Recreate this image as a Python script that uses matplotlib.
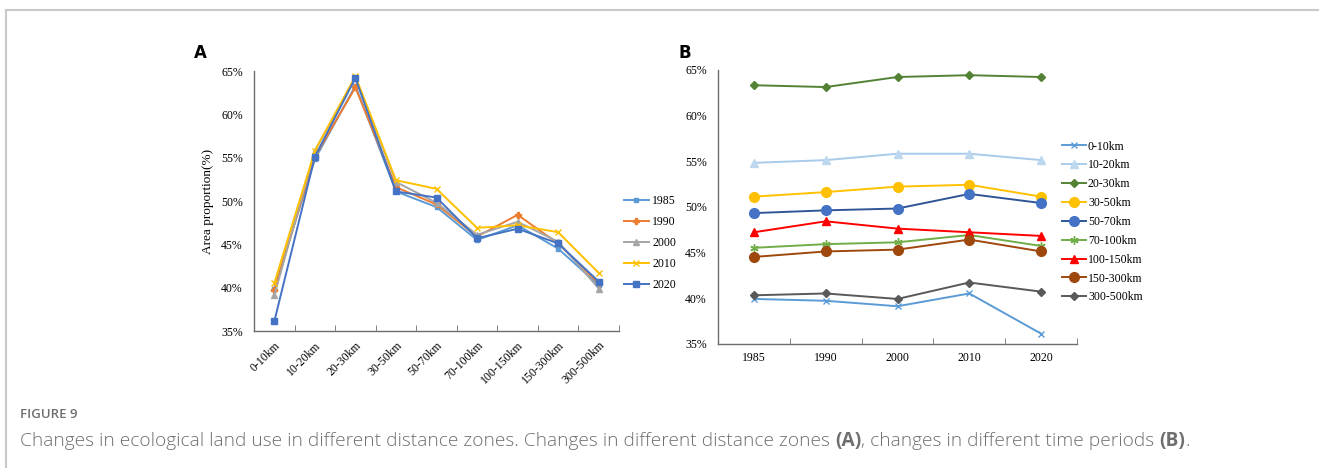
import numpy as np
import matplotlib.pyplot as plt
from matplotlib.lines import Line2D

# distance zones and years
zones = ['0-10km', '10-20km', '20-30km', '30-50km', '50-70km',
         '70-100km', '100-150km', '150-300km', '300-500km']
years = ['1985', '1990', '2000', '2010', '2020']

# area proportion (%) per zone, one value per year
z_0_10 = [39.9, 39.7, 39.1, 40.5, 36.1]
z_10_20 = [54.8, 55.1, 55.8, 55.8, 55.1]
z_20_30 = [63.3, 63.1, 64.2, 64.4, 64.2]
z_30_50 = [51.1, 51.6, 52.2, 52.4, 51.1]
z_50_70 = [49.3, 49.6, 49.8, 51.4, 50.4]
z_70_100 = [45.5, 45.9, 46.1, 46.9, 45.7]
z_100_150 = [47.2, 48.4, 47.6, 47.2, 46.8]
z_150_300 = [44.5, 45.1, 45.3, 46.4, 45.1]
z_300_500 = [40.3, 40.5, 39.9, 41.7, 40.7]

table = np.array([z_0_10, z_10_20, z_20_30, z_30_50, z_50_70,
                  z_70_100, z_100_150, z_150_300, z_300_500])

serif = 'Liberation Serif'
plt.rcParams['font.family'] = serif

fig = plt.figure(figsize=(13.19, 4.68), dpi=100)

# light frame on the left and top, like the journal page
fig.add_artist(Line2D([6 / 1319, 6 / 1319], [0, 1 - 10 / 468], color='#c8c8c8', lw=1.5))
fig.add_artist(Line2D([6 / 1319, 1], [1 - 10 / 468, 1 - 10 / 468], color='#c8c8c8', lw=1.5))


def style_axes(ax, n):
    for s in ['top', 'right']:
        ax.spines[s].set_visible(False)
    for s in ['left', 'bottom']:
        ax.spines[s].set_color('#6e6e6e')
        ax.spines[s].set_linewidth(1.0)
    ax.set_xlim(-0.5, n - 0.5)
    ax.set_ylim(35, 65)
    ax.set_yticks(np.arange(35, 66, 5))
    ax.set_yticklabels([f'{v}%' for v in range(35, 66, 5)])
    ax.set_xticks(np.arange(-0.5, n, 1.0), minor=True)
    ax.tick_params(axis='x', which='major', length=0, labelsize=8.5, pad=6)
    ax.tick_params(axis='x', which='minor', direction='in', length=4, color='#6e6e6e')
    ax.tick_params(axis='y', length=0, labelsize=8.5, pad=8)


# ---- panel A : distance zones on x, one line per year
axA = fig.add_axes([254 / 1319, 1 - 331 / 468, 365 / 1319, 260 / 468])
year_colors = ['#5B9BD5', '#ED7D31', '#A5A5A5', '#FFC000', '#4472C4']
year_markers = ['s', 'P', '^', 'x', 's']
year_msize = [3, 4, 4, 4, 5]
xA = np.arange(len(zones))
for j, yr in enumerate(years):
    axA.plot(xA, table[:, j], color=year_colors[j], marker=year_markers[j],
             markersize=year_msize[j], lw=1.4, label=yr)
style_axes(axA, len(zones))
axA.set_xticks(xA)
axA.set_xticklabels(zones, rotation=45, ha='right', rotation_mode='anchor')
axA.set_ylabel('Area proportion(%)', fontsize=9.5, labelpad=5)
axA.legend(loc='center left', bbox_to_anchor=(624 / 1319, 1 - 243 / 468),
           bbox_transform=fig.transFigure, frameon=False, fontsize=8.5,
           borderpad=0, borderaxespad=0,
           handlelength=2.1, labelspacing=0.75, handletextpad=0.3)

# ---- panel B : years on x, one line per zone
axB = fig.add_axes([718 / 1319, 1 - 343.7 / 468, 359 / 1319, 274 / 468])
zone_colors = ['#5B9BD5', '#A9CBEA', '#548235', '#FFC000', '#2F5597',
               '#70AD47', '#FF0000', '#9E480E', '#595959']
zone_mfc = ['#5B9BD5', '#BDD7EE', '#548235', '#FFC000', '#4472C4',
            '#70AD47', '#FF0000', '#9E480E', '#595959']
zone_markers = ['x', '^', 'D', 'o', 'o', (6, 2, 0), '^', 'o', 'D']
zone_msize = [5, 6, 4.5, 7, 7, 6, 6, 7, 4.5]
xB = np.arange(len(years))
for i, zn in enumerate(zones):
    axB.plot(xB, table[i], color=zone_colors[i], marker=zone_markers[i],
             markersize=zone_msize[i], markerfacecolor=zone_mfc[i],
             markeredgecolor=zone_mfc[i], lw=1.4, label=zn)
style_axes(axB, len(years))
axB.set_xticks(xB)
axB.set_xticklabels(years)
axB.legend(loc='center left', bbox_to_anchor=(1062 / 1319, 1 - 222 / 468),
           bbox_transform=fig.transFigure, frameon=False, fontsize=8.5,
           borderpad=0, borderaxespad=0,
           handlelength=2.0, labelspacing=0.58, handletextpad=0.2)

# panel letters
fig.text(194 / 1319, 1 - 53 / 468, 'A', fontsize=12, fontweight='bold',
         family='DejaVu Sans', va='center')
fig.text(679 / 1319, 1 - 53 / 468, 'B', fontsize=12, fontweight='bold',
         family='DejaVu Sans', va='center')

# caption
grey = '#6f6f6f'
fig.text(20 / 1319, 1 - 415 / 468, 'FIGURE 9', fontsize=9.5, color=grey,
         family='Open Sans', fontweight='semibold', va='center')
pieces = [('Changes in ecological land use in different distance zones. '
           'Changes in different distance zones ', 'light'),
          ('(A)', 'bold'),
          (', changes in different time periods ', 'light'),
          ('(B)', 'bold'),
          ('.', 'light')]
texts = []
for txt, w in pieces:
    texts.append(fig.text(0, 0, txt, fontsize=13.8, color=grey, family='Open Sans',
                          fontweight=w, va='baseline'))
# place pieces one after the other using the renderer
fig.canvas.draw()
r = fig.canvas.get_renderer()
x0 = 20 / 1319
y0 = 1 - 446 / 468
for t in texts:
    t.set_position((x0, y0))
    bb = t.get_window_extent(r)
    x0 = x0 + bb.width / fig.bbox.width

fig.savefig('out.png', dpi=100)
